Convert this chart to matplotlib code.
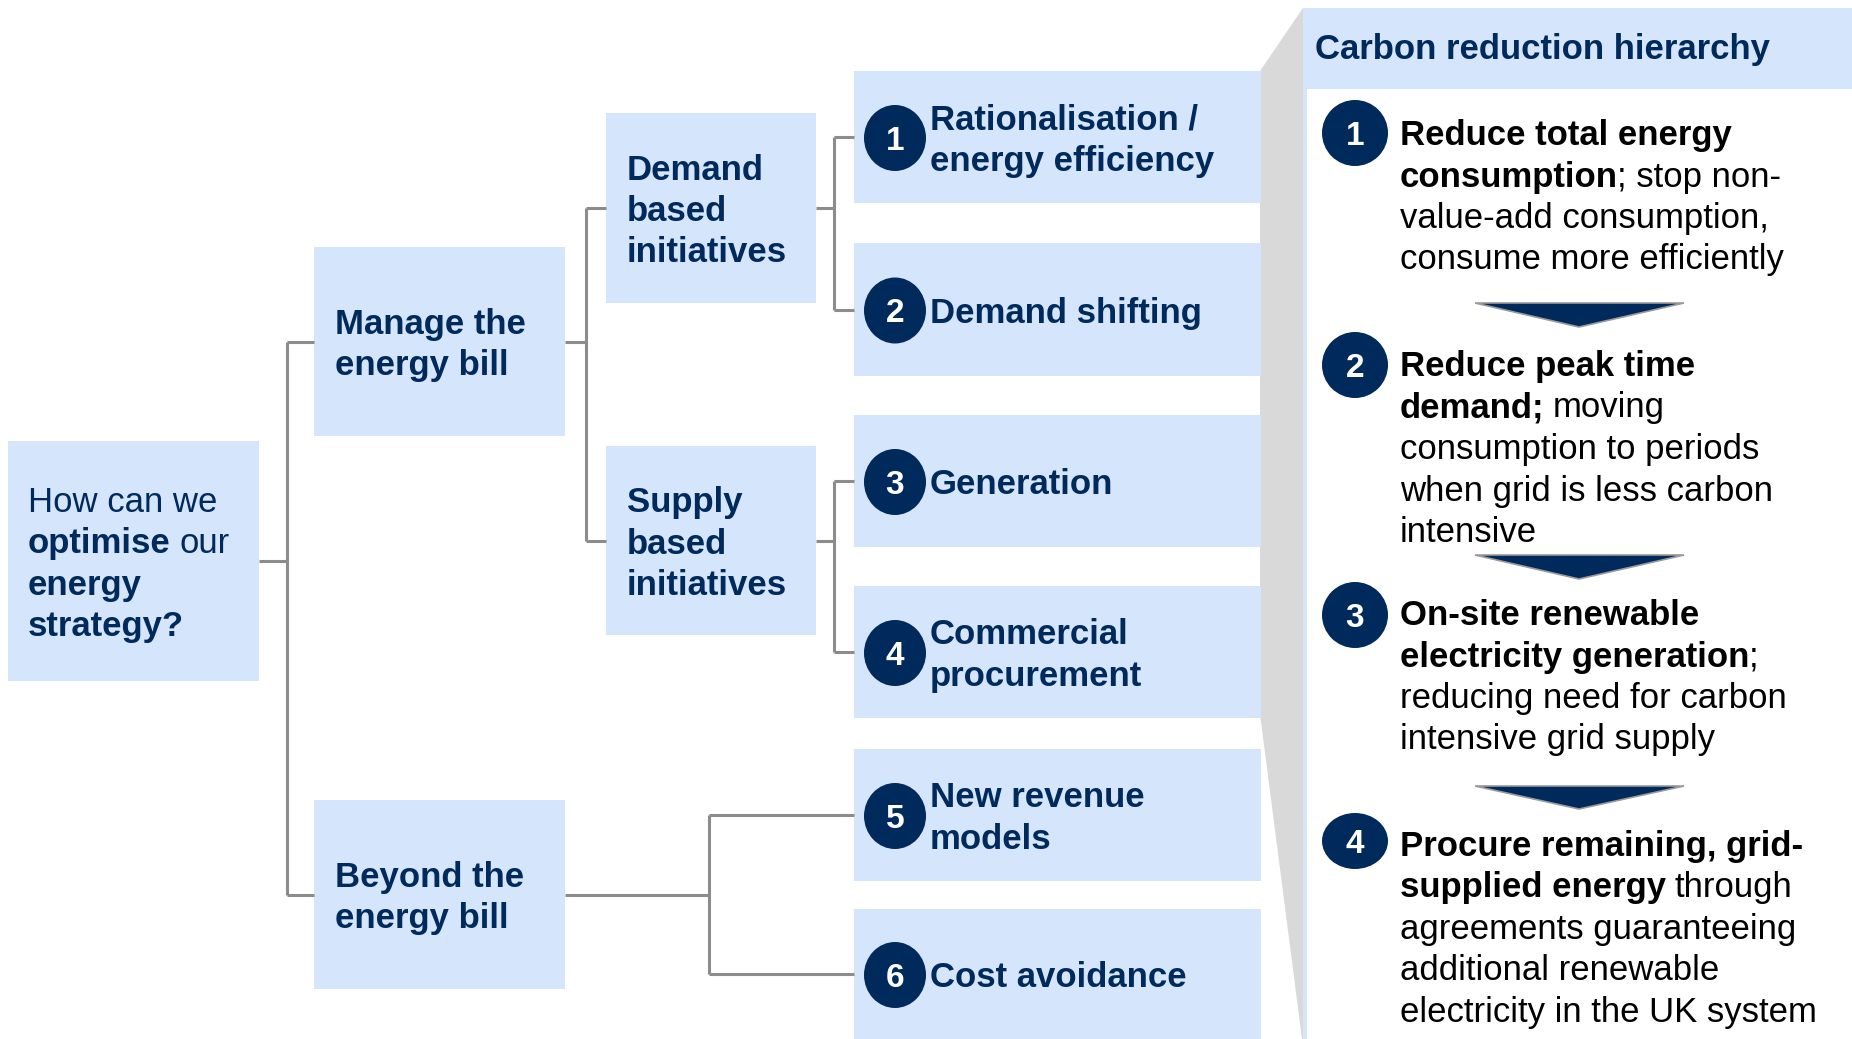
import matplotlib.pyplot as plt
from matplotlib.patches import Rectangle, Ellipse, Polygon

# --- text content ---
question_lines = [
    [("How can we", False)],
    [("optimise", True), (" our", False)],
    [("energy", True)],
    [("strategy?", True)],
]
branch_labels = [["Manage the", "energy bill"], ["Beyond the", "energy bill"]]
sub_labels = [["Demand", "based", "initiatives"], ["Supply", "based", "initiatives"]]
lever_numbers = ["1", "2", "3", "4", "5", "6"]
lever_labels = [
    ["Rationalisation /", "energy efficiency"],
    ["Demand shifting"],
    ["Generation"],
    ["Commercial", "procurement"],
    ["New revenue", "models"],
    ["Cost avoidance"],
]
hierarchy_title = "Carbon reduction hierarchy"
hierarchy_numbers = ["1", "2", "3", "4"]
hierarchy_text = [
    [[("Reduce total energy", True)],
     [("consumption", True), ("; stop non-", False)],
     [("value-add consumption,", False)],
     [("consume more efficiently", False)]],
    [[("Reduce peak time", True)],
     [("demand;", True), (" moving", False)],
     [("consumption to periods", False)],
     [("when grid is less carbon", False)],
     [("intensive", False)]],
    [[("On-site renewable", True)],
     [("electricity generation", True), (";", False)],
     [("reducing need for carbon", False)],
     [("intensive grid supply", False)]],
    [[("Procure remaining, grid-", True)],
     [("supplied energy", True), (" through", False)],
     [("agreements guaranteeing", False)],
     [("additional renewable", False)],
     [("electricity in the UK system", False)]],
]

# --- layout (pixel coords, y down) ---
W, H = 1852, 1039
LIGHT = '#D5E6FC'
NAVY = '#002A5C'
LINE = '#8C8C8C'
WEDGE = '#D9D9D9'
FS = 25
GAP = 41.5
FONT = 'Liberation Sans'

q_box = (8, 441, 259, 681)
branch_boxes = [(314, 247, 565, 436), (314, 800, 565, 989)]
sub_boxes = [(606, 113, 816, 303), (606, 446, 816, 635)]
lever_x = (854, 1261)
lever_y = [(71, 203), (243, 376), (415, 547), (586, 718), (749, 881), (909, 1039)]

fig = plt.figure(figsize=(W / 100, H / 100), dpi=100)
ax = fig.add_axes([0, 0, 1, 1])
ax.set_xlim(0, W)
ax.set_ylim(H, 0)
ax.axis('off')
renderer = fig.canvas.get_renderer()


def box(x0, y0, x1, y1, color=LIGHT):
    ax.add_patch(Rectangle((x0, y0), x1 - x0, y1 - y0, facecolor=color, edgecolor='none'))


def line(xs, ys):
    ax.plot(xs, ys, color=LINE, lw=2.2, solid_capstyle='butt', solid_joinstyle='miter')


def rich_line(x, y, segs, color):
    space_w = 0.278 * FS * 100 / 72
    for s, bold in segs:
        lead = len(s) - len(s.lstrip(' '))
        x += lead * space_w
        t = ax.text(x, y, s.lstrip(' '), fontsize=FS, family=FONT, color=color,
                    fontweight='bold' if bold else 'normal', va='baseline', ha='left')
        x += t.get_window_extent(renderer).width - 1


def block(x, yc, lines, color=NAVY):
    y = yc - (len(lines) - 1) * GAP / 2 + 13
    for i, ln in enumerate(lines):
        if isinstance(ln, str):
            ln = [(ln, True)]
        rich_line(x, y + i * GAP, ln, color)


def badge(x, y, w, h, num):
    ax.add_patch(Ellipse((x, y), w, h, facecolor=NAVY, edgecolor='none'))
    ax.text(x, y + 12, num, fontsize=24, family=FONT, fontweight='bold', color='white',
            ha='center', va='baseline')


def mid(b):
    return (b[1] + b[3]) / 2


# gray wedge behind the hierarchy panel
ax.add_patch(Polygon([(1260, 71), (1303, 8), (1303, 1039), (1302, 1039), (1260, 714)],
                     facecolor=WEDGE, edgecolor='none'))

# question box
box(*q_box)
block(28, mid(q_box), question_lines)

# branches
for b, lab in zip(branch_boxes, branch_labels):
    box(*b)
    block(335, mid(b), lab)
for b, lab in zip(sub_boxes, sub_labels):
    box(*b)
    block(627, mid(b), lab)

# levers
lever_c = []
for (y0, y1), num, lab in zip(lever_y, lever_numbers, lever_labels):
    box(lever_x[0], y0, lever_x[1], y1)
    yc = (y0 + y1) / 2
    lever_c.append(yc)
    badge(895, yc + 1, 62, 66, num)
    block(930, yc, lab)

# connectors
qx = 287
line([q_box[2], qx], [mid(q_box)] * 2)
line([qx, qx], [mid(branch_boxes[0]), mid(branch_boxes[1])])
for b in branch_boxes:
    line([qx, b[0]], [mid(b)] * 2)

sx = 586
line([branch_boxes[0][2], sx], [mid(branch_boxes[0])] * 2)
line([sx, sx], [mid(sub_boxes[0]), mid(sub_boxes[1])])
for b in sub_boxes:
    line([sx, b[0]], [mid(b)] * 2)

lx = 834
for b, (i, j) in zip(sub_boxes, [(0, 1), (2, 3)]):
    line([b[2], lx], [mid(b)] * 2)
    line([lx, lx], [lever_c[i], lever_c[j]])
    for k in (i, j):
        line([lx, lever_x[0]], [lever_c[k]] * 2)

bx = 709
line([branch_boxes[1][2], bx], [mid(branch_boxes[1])] * 2)
line([bx, bx], [lever_c[4], lever_c[5]])
for k in (4, 5):
    line([bx, lever_x[0]], [lever_c[k]] * 2)

# hierarchy panel
box(1303, 8, W, 1039)
box(1307, 89, W, 1039, 'white')
ax.text(1315, 59, hierarchy_title, fontsize=FS, family=FONT, fontweight='bold',
        color=NAVY, va='baseline', ha='left')

item_first_baseline = [145, 376, 625, 856]
item_circle = [(133, 66, 66), (365, 66, 66), (615, 66, 66), (841, 66, 56)]
for num, lines, yb, (cy, cw, ch) in zip(hierarchy_numbers, hierarchy_text,
                                        item_first_baseline, item_circle):
    badge(1355, cy, cw, ch, num)
    for i, ln in enumerate(lines):
        rich_line(1400, yb + i * GAP, ln, 'black')

# arrows between steps
for top, tip in [(303, 327), (555, 579), (786, 809)]:
    ax.add_patch(Polygon([(1475, top), (1684, top), (1579, tip)], closed=True,
                         facecolor=NAVY, edgecolor='#9A9A9A', lw=1.2))

fig.savefig('out.png', dpi=100)
